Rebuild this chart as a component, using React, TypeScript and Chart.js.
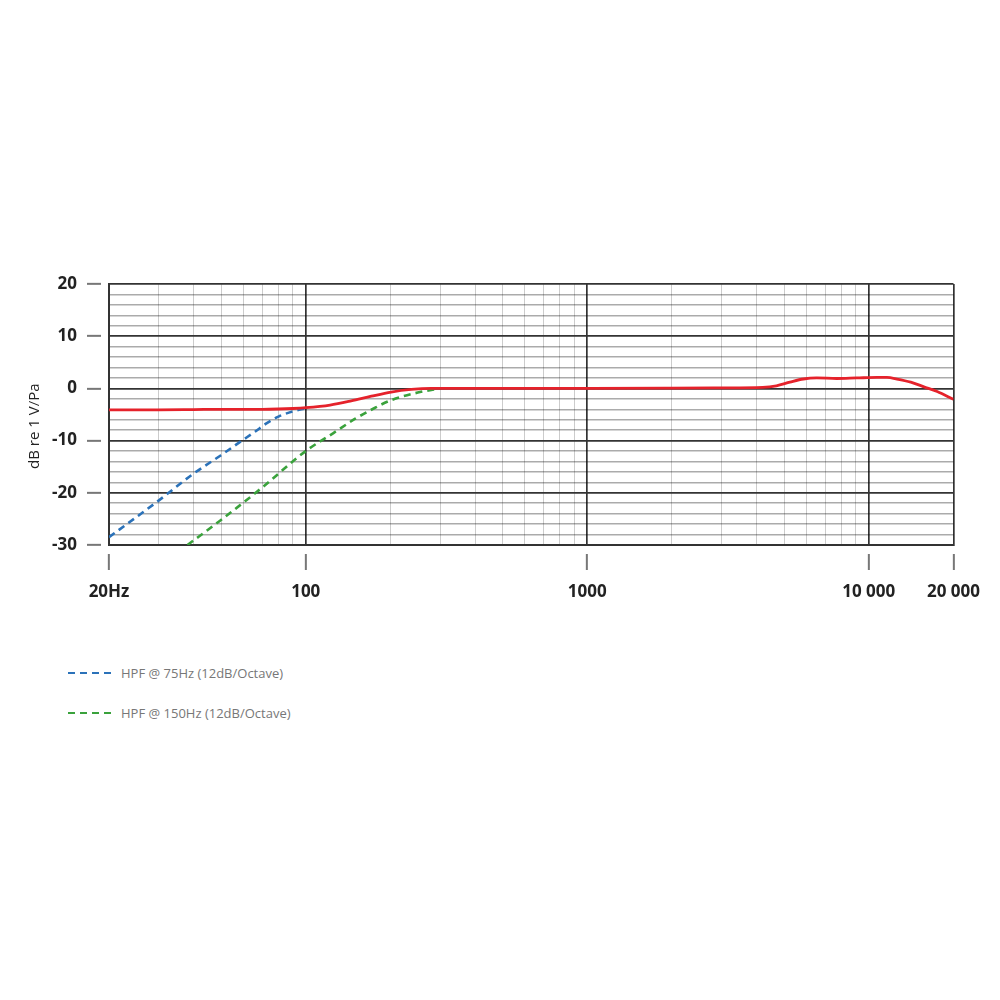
import React, { useEffect, useRef } from 'react';
import { Chart, registerables } from 'chart.js';

Chart.register(...registerables);

// x axis: log frequency grid (no minor lines above 10 kHz)
const xTicks = [
  20, 30, 40, 50, 60, 70, 80, 90,
  100, 200, 300, 400, 500, 600, 700, 800, 900,
  1000, 2000, 3000, 4000, 5000, 6000, 7000, 8000, 9000,
  10000, 20000,
];
const xTickLabels: Record<number, string> = {
  20: '20Hz',
  100: '100',
  1000: '1000',
  10000: '10 000',
  20000: '20 000',
};
const xMajor = [20, 100, 1000, 10000, 20000];

// y axis in dB, a grid line every 2 dB, labels every 10
const yMin = -30;
const yMax = 20;
const yTicks = [
  -30, -28, -26, -24, -22, -20, -18, -16, -14, -12, -10, -8, -6, -4, -2,
  0, 2, 4, 6, 8, 10, 12, 14, 16, 18, 20,
];

// main response (red)
const responseFreq = [
  20, 30, 40, 50, 60, 70, 80, 90, 100, 122, 145, 171, 201, 237, 279, 400, 700,
  1000, 2000, 3000, 4200, 4700, 5250, 5860, 6530, 7690, 9060, 10700, 11600,
  12600, 14100, 15700, 17500, 20000,
];
const responseDb = [
  -4.1, -4.1, -4.05, -4.0, -4.0, -4.0, -3.95, -3.85, -3.7, -3.2, -2.4, -1.5, -0.7,
  -0.2, 0, 0, 0, 0, 0.05, 0.1, 0.2, 0.5, 1.2, 1.8, 2.0, 1.9, 2.0, 2.1, 2.1,
  1.8, 1.2, 0.3, -0.6, -2.1,
];

// HPF @ 75Hz (blue)
const hpf75Freq = [20, 30, 40, 50, 59, 66, 73, 80, 90, 100];
const hpf75Db = [-28.5, -21.5, -16.3, -12.8, -10.1, -8.3, -6.6, -5.4, -4.4, -3.8];

// HPF @ 150Hz (green)
const hpf150Freq = [38, 50, 70, 100, 125, 150, 175, 200, 250, 300];
const hpf150Db = [-30, -25.2, -19, -12, -8.6, -5.8, -3.8, -2.3, -0.8, 0];

const legendItems = [
  { label: 'HPF @ 75Hz (12dB/Octave)', color: '#2b72b9' },
  { label: 'HPF @ 150Hz (12dB/Octave)', color: '#3aa23c' },
];

const toPoints = (xs: number[], ys: number[]) => xs.map((x, i) => ({ x, y: ys[i] }));

const FrequencyResponse: React.FC = () => {
  const canvasRef = useRef<HTMLCanvasElement>(null);
  const chartRef = useRef<Chart | null>(null);

  useEffect(() => {
    if (!canvasRef.current) return;
    if (chartRef.current) chartRef.current.destroy();

    const ctx = canvasRef.current.getContext('2d');
    if (!ctx) return;

    chartRef.current = new Chart(ctx, {
      type: 'line',
      data: {
        datasets: [
          {
            label: 'Response',
            data: toPoints(responseFreq, responseDb),
            borderColor: '#e5222b',
            borderWidth: 2.8,
            pointRadius: 0,
            cubicInterpolationMode: 'monotone',
          },
          {
            label: legendItems[0].label,
            data: toPoints(hpf75Freq, hpf75Db),
            borderColor: legendItems[0].color,
            borderWidth: 2.6,
            borderDash: [7, 5],
            pointRadius: 0,
            cubicInterpolationMode: 'monotone',
          },
          {
            label: legendItems[1].label,
            data: toPoints(hpf150Freq, hpf150Db),
            borderColor: legendItems[1].color,
            borderWidth: 2.6,
            borderDash: [7, 5],
            pointRadius: 0,
            cubicInterpolationMode: 'monotone',
          },
        ],
      },
      options: {
        responsive: true,
        maintainAspectRatio: false,
        animation: false,
        layout: { padding: { top: 276, left: 8, right: 38, bottom: 23 } },
        plugins: {
          legend: { display: false },
          tooltip: { enabled: false },
        },
        scales: {
          x: {
            type: 'logarithmic',
            min: 20,
            max: 20000,
            afterBuildTicks: (scale: any) => {
              scale.ticks = xTicks.map(v => ({ value: v }));
            },
            afterFit: (scale: any) => {
              scale.height = 60;
            },
            ticks: {
              autoSkip: false,
              maxRotation: 0,
              padding: 12,
              color: '#222',
              font: { family: 'Open Sans', size: 17, weight: 'bold' },
              callback: (value: any) => xTickLabels[Number(value)] ?? '',
            },
            grid: {
              color: (c: any) => (xMajor.includes(c.tick?.value) ? '#333' : 'rgba(0,0,0,0.2)'),
              lineWidth: (c: any) => (xMajor.includes(c.tick?.value) ? 1.7 : 1),
              tickLength: 25,
              tickColor: (c: any) => (xTickLabels[c.tick?.value] ? '#777' : 'rgba(0,0,0,0)'),
              tickWidth: 2,
              tickBorderDash: [17, 8],
              tickBorderDashOffset: 17,
            },
            border: { display: true, color: '#333', width: 2 },
          },
          y: {
            type: 'linear',
            min: yMin,
            max: yMax,
            afterBuildTicks: (scale: any) => {
              scale.ticks = yTicks.map(v => ({ value: v }));
            },
            afterFit: (scale: any) => {
              scale.width = 93;
            },
            ticks: {
              autoSkip: false,
              padding: 10,
              color: '#222',
              font: { family: 'Open Sans', size: 17, weight: 'bold' },
              callback: (value: any) => (Number(value) % 10 === 0 ? String(value) : ''),
            },
            grid: {
              color: (c: any) => (c.tick?.value % 10 === 0 ? '#333' : 'rgba(0,0,0,0.33)'),
              lineWidth: (c: any) => (c.tick?.value % 10 === 0 ? 1.7 : 1.5),
              tickLength: 22,
              tickColor: (c: any) => (c.tick?.value % 10 === 0 ? '#777' : 'rgba(0,0,0,0)'),
              tickWidth: 2,
              tickBorderDash: [14, 30],
            },
            border: { display: true, color: '#333', width: 2 },
            title: {
              display: true,
              // trailing spaces nudge the rotated title a little below the axis centre, as in the original
              text: 'dB re 1 V/Pa\u00a0\u00a0\u00a0\u00a0\u00a0\u00a0',
              color: '#222',
              padding: { top: 10, bottom: 0 },
              font: { family: 'Open Sans', size: 15 },
            },
          },
        },
      },
    });

    return () => {
      if (chartRef.current) {
        chartRef.current.destroy();
        chartRef.current = null;
      }
    };
  }, []);

  return (
    <div>
      <div style={{ width: 984, height: 620, position: 'relative' }}>
        <canvas ref={canvasRef} />
      </div>
      <div style={{ position: 'absolute', left: 68, top: 664 }}>
        {legendItems.map((item, i) => (
          <div
            key={item.label}
            style={{ display: 'flex', alignItems: 'center', height: 18, marginBottom: i === 0 ? 22 : 0 }}
          >
            <span
              style={{
                display: 'inline-block',
                width: 43,
                height: 2.5,
                background: `repeating-linear-gradient(to right, ${item.color} 0 7px, transparent 7px 12px)`,
              }}
            />
            <span
              style={{
                marginLeft: 10,
                fontFamily: 'Open Sans',
                fontSize: 13,
                color: '#777',
              }}
            >
              {item.label}
            </span>
          </div>
        ))}
      </div>
    </div>
  );
};

export default function App() {
  return <FrequencyResponse />;
}
